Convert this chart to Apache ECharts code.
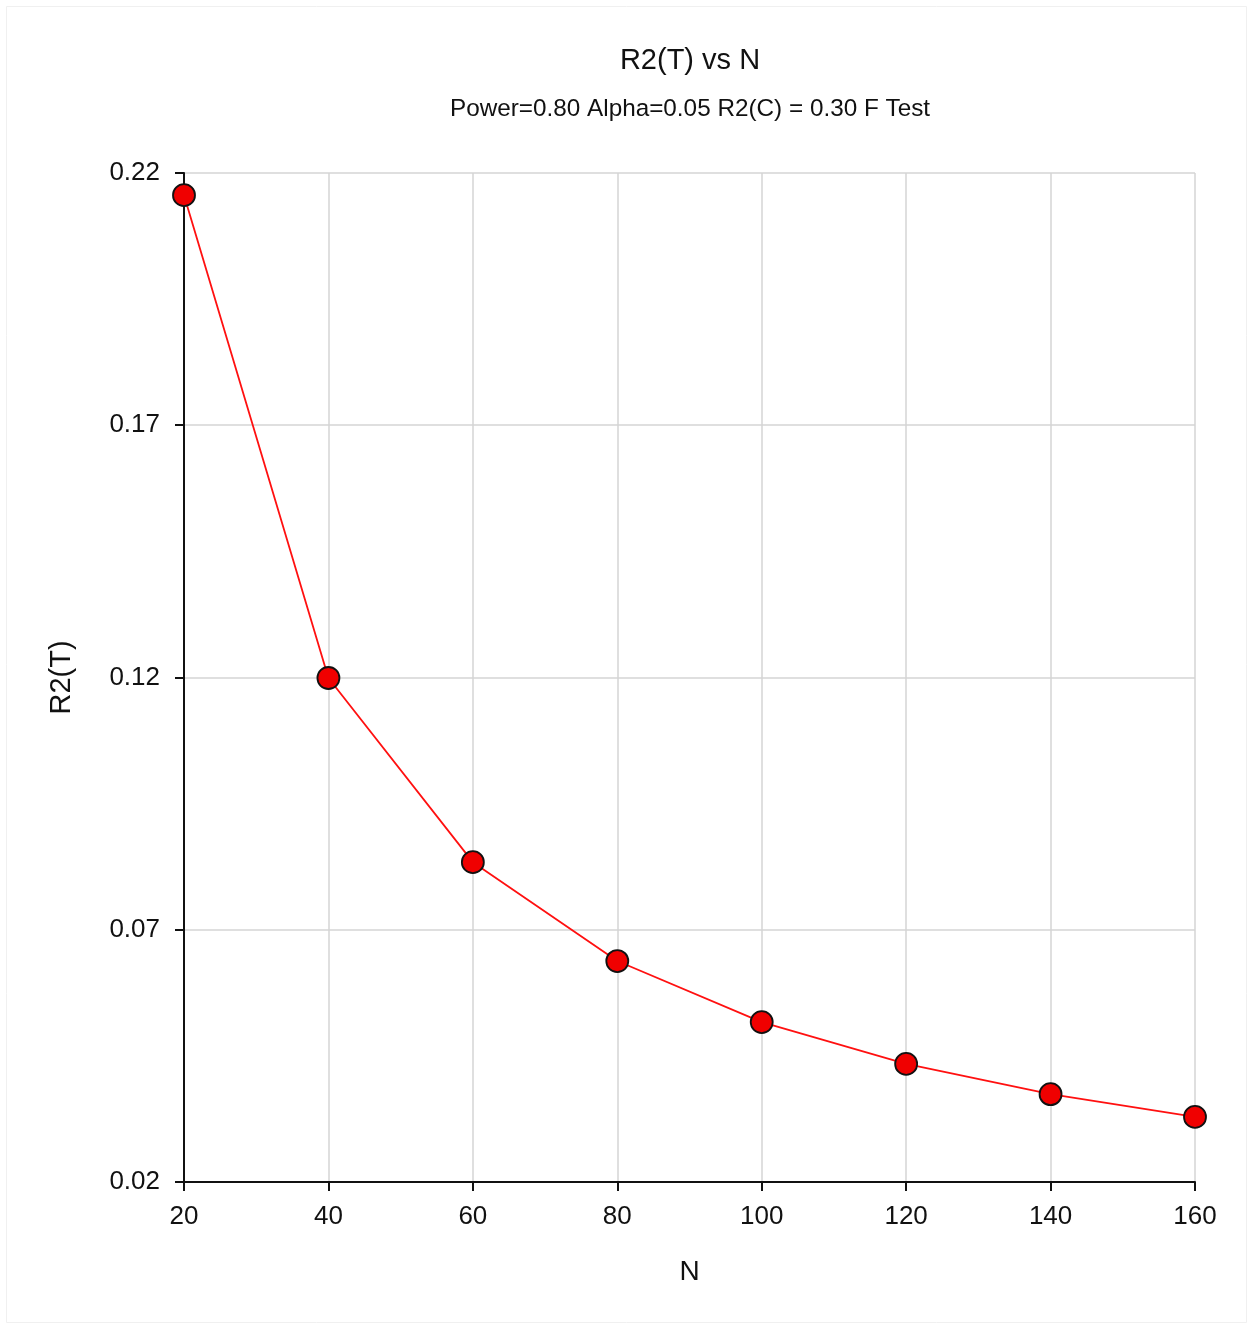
<!DOCTYPE html>
<html><head><meta charset="utf-8">
<script src="https://cdn.jsdelivr.net/npm/echarts@6/dist/echarts.min.js"></script>
<style>html,body{margin:0;padding:0;background:#fff}#c{width:1253px;height:1329px}</style>
</head><body><div id="c"></div>
<script>
const nValues = [20, 40, 60, 80, 100, 120, 140, 160];
const r2tValues = [0.2156, 0.1199, 0.0834, 0.0638, 0.0517, 0.0434, 0.0374, 0.0329];
const yTicks = [0.02, 0.07, 0.12, 0.17, 0.22];
const titleText = 'R2(T) vs N';
const subtitleText = 'Power=0.80 Alpha=0.05 R2(C) = 0.30 F Test';

const font = 'Arial, "Liberation Sans", sans-serif';
const chart = echarts.init(document.getElementById('c'));
chart.setOption({
  animation: false,
  backgroundColor: '#fff',
  title: {
    text: titleText, subtext: subtitleText,
    left: 685, textAlign: 'center', top: 41, itemGap: 22,
    textStyle: {fontFamily: font, fontSize: 29, fontWeight: 'normal', color: '#111'},
    subtextStyle: {fontFamily: font, fontSize: 24.3, color: '#111'}
  },
  grid: {left: 184, right: 58, top: 173, bottom: 147},
  xAxis: {
    type: 'value', min: 20, max: 160, interval: 20,
    name: 'N', nameLocation: 'middle', nameGap: 76,
    nameTextStyle: {fontFamily: font, fontSize: 28, color: '#111'},
    axisLine: {show: true, lineStyle: {color: '#111', width: 2}},
    axisTick: {show: true, length: 9, lineStyle: {color: '#111', width: 2}},
    axisLabel: {fontFamily: font, fontSize: 26, color: '#111', margin: 22},
    splitLine: {show: true, lineStyle: {color: '#d4d4d4', width: 1.5}}
  },
  yAxis: {
    type: 'value', min: 0.02, max: 0.22, interval: 0.05,
    name: 'R2(T)', nameLocation: 'middle', nameGap: 108, nameRotate: 90,
    nameTextStyle: {fontFamily: font, fontSize: 29, color: '#111'},
    axisLine: {show: true, lineStyle: {color: '#111', width: 2}},
    axisTick: {show: true, length: 9, lineStyle: {color: '#111', width: 2}, customValues: yTicks},
    axisLabel: {fontFamily: font, fontSize: 26, color: '#111', margin: 24, customValues: yTicks,
      formatter: v => v.toFixed(2)},
    splitLine: {show: true, lineStyle: {color: '#d4d4d4', width: 1.5}}
  },
  series: [{
    type: 'line',
    data: nValues.map((n, i) => [n, r2tValues[i]]),
    lineStyle: {color: '#ff1010', width: 1.8},
    symbol: 'circle', symbolSize: 22,
    itemStyle: {color: '#f00000', borderColor: '#111', borderWidth: 1.8},
    z: 5
  }],
  graphic: [{
    type: 'rect', shape: {x: 6.5, y: 6.5, width: 1240, height: 1316},
    style: {fill: 'none', stroke: '#f0f0f0', lineWidth: 1}, silent: true
  }]
});
</script></body></html>
